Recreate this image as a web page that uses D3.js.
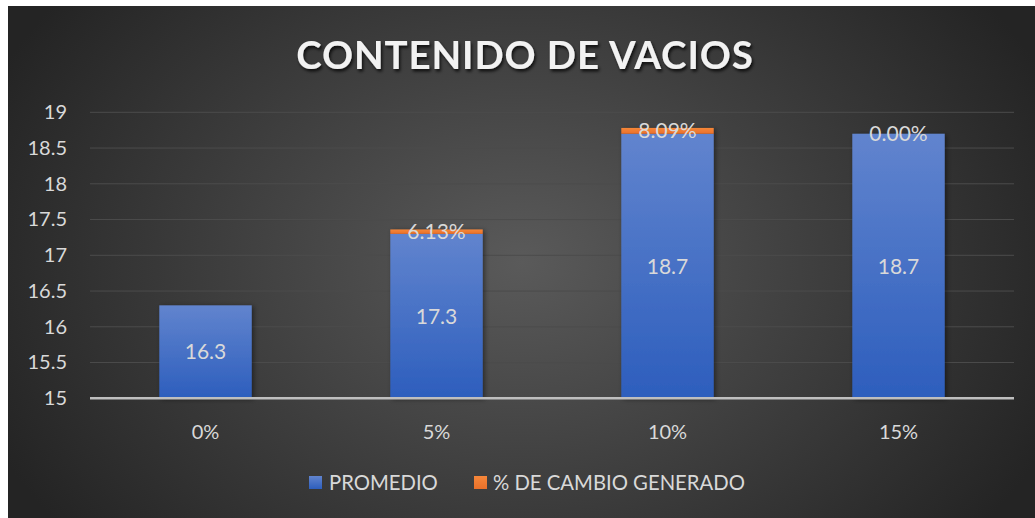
<!DOCTYPE html>
<html>
<head>
<meta charset="utf-8">
<script src="https://cdn.jsdelivr.net/npm/d3@7"></script>
<style>
  html, body { margin: 0; padding: 0; background: #fff; }
  svg { display: block; }
  text { font-family: Lato, "Open Sans", sans-serif; }
</style>
</head>
<body>
<div class="chart"></div>
<script>
const categories = ["0%", "5%", "10%", "15%"];
const promedio = [16.3, 17.3, 18.7, 18.7];
const cambio = [null, 0.0613, 0.0809, 0.0];
const yTicks = [15, 15.5, 16, 16.5, 17, 17.5, 18, 18.5, 19];
const seriesNames = ["PROMEDIO", "% DE CAMBIO GENERADO"];

const width = 1035;
const height = 518;
const textColor = "#d9d9d9";

const svg = d3.select(".chart")
    .append("svg")
    .attr("width", width)
    .attr("height", height);

const defs = svg.append("defs");

const bg = defs.append("radialGradient")
    .attr("id", "bg")
    .attr("gradientUnits", "userSpaceOnUse")
    .attr("cx", 521).attr("cy", 262).attr("r", 580)
    .attr("gradientTransform", "translate(521,262) scale(1,0.75) translate(-521,-262)");
bg.append("stop").attr("offset", 0).attr("stop-color", "#5a5a5a");
bg.append("stop").attr("offset", 1).attr("stop-color", "#242424");

const blueGrad = defs.append("linearGradient")
    .attr("id", "blue").attr("x1", 0).attr("y1", 0).attr("x2", 0).attr("y2", 1);
blueGrad.append("stop").attr("offset", 0).attr("stop-color", "#6184ce");
blueGrad.append("stop").attr("offset", 1).attr("stop-color", "#2d5ebd");

const orangeGrad = defs.append("linearGradient")
    .attr("id", "orange").attr("x1", 0).attr("y1", 0).attr("x2", 0).attr("y2", 1);
orangeGrad.append("stop").attr("offset", 0).attr("stop-color", "#f6873a");
orangeGrad.append("stop").attr("offset", 1).attr("stop-color", "#e9702a");

const titleShadow = defs.append("filter").attr("id", "tshadow")
    .attr("x", "-10%").attr("y", "-30%").attr("width", "120%").attr("height", "160%");
titleShadow.append("feDropShadow")
    .attr("dx", 1.5).attr("dy", 2.5).attr("stdDeviation", 1.8)
    .attr("flood-color", "#000").attr("flood-opacity", 0.75);

const barShadow = defs.append("filter").attr("id", "bshadow")
    .attr("x", "-20%").attr("y", "-10%").attr("width", "140%").attr("height", "120%");
barShadow.append("feDropShadow")
    .attr("dx", 2).attr("dy", 1).attr("stdDeviation", 2.5)
    .attr("flood-color", "#000").attr("flood-opacity", 0.45);

// chart area
svg.append("rect")
    .attr("x", 8).attr("y", 6)
    .attr("width", width - 8).attr("height", height - 6)
    .attr("fill", "url(#bg)");

const plot = { left: 90, right: 1014, top: 112.3, bottom: 398.3 };

const x = d3.scaleBand()
    .domain(categories)
    .range([plot.left, plot.right])
    .paddingInner(0.6)
    .paddingOuter(0.3);

const y = d3.scaleLinear()
    .domain([15, 19])
    .range([plot.bottom, plot.top]);

// title
svg.append("text")
    .attr("x", 525)
    .attr("y", 69)
    .attr("text-anchor", "middle")
    .attr("font-size", 38.5)
    .attr("font-weight", "bold")
    .attr("letter-spacing", 0.9)
    .attr("fill", "#f2f2f2")
    .attr("filter", "url(#tshadow)")
    .text("CONTENIDO DE VACIOS");

// gridlines
svg.append("g")
    .selectAll("line")
    .data(yTicks.filter(d => d > 15))
    .join("line")
    .attr("x1", plot.left).attr("x2", plot.right)
    .attr("y1", d => y(d)).attr("y2", d => y(d))
    .attr("stroke", "#4c4c4c")
    .attr("stroke-width", 1);

// y axis labels
const yAxis = svg.append("g")
    .attr("transform", `translate(${plot.left},0)`)
    .call(d3.axisLeft(y).tickValues(yTicks).tickSize(0).tickPadding(23).tickFormat(d3.format("")));
yAxis.select(".domain").remove();
yAxis.selectAll("text")
    .attr("fill", textColor)
    .attr("font-size", 20)
    .attr("font-family", "Lato, sans-serif");

// bars
const bars = svg.append("g").attr("filter", "url(#bshadow)");

bars.selectAll("rect.promedio")
    .data(promedio)
    .join("rect")
    .attr("class", "promedio")
    .attr("x", (d, i) => x(categories[i]))
    .attr("width", x.bandwidth())
    .attr("y", d => y(d))
    .attr("height", d => y(15) - y(d))
    .attr("fill", "url(#blue)");

bars.selectAll("rect.cambio")
    .data(cambio)
    .join("rect")
    .attr("class", "cambio")
    .attr("x", (d, i) => x(categories[i]))
    .attr("width", x.bandwidth())
    .attr("y", (d, i) => y(promedio[i] + (d || 0)))
    .attr("height", (d, i) => y(promedio[i]) - y(promedio[i] + (d || 0)))
    .attr("fill", "url(#orange)");

// baseline
svg.append("line")
    .attr("x1", plot.left).attr("x2", plot.right)
    .attr("y1", y(15)).attr("y2", y(15))
    .attr("stroke", "#bfbfbf")
    .attr("stroke-width", 2.5);

// value labels
svg.append("g")
    .selectAll("text")
    .data(promedio)
    .join("text")
    .attr("x", (d, i) => x(categories[i]) + x.bandwidth() / 2)
    .attr("y", d => (y(d) + y(15)) / 2)
    .attr("dy", "0.36em")
    .attr("text-anchor", "middle")
    .attr("font-size", 21)
    .attr("fill", textColor)
    .text(d => d3.format(".1f")(d));

svg.append("g")
    .selectAll("text")
    .data(cambio.map((d, i) => ({ d, i })).filter(o => o.d !== null))
    .join("text")
    .attr("x", o => x(categories[o.i]) + x.bandwidth() / 2)
    .attr("y", o => (y(promedio[o.i]) + y(promedio[o.i] + o.d)) / 2)
    .attr("dy", "0.36em")
    .attr("text-anchor", "middle")
    .attr("font-size", 21)
    .attr("fill", textColor)
    .text(o => d3.format(".2%")(o.d));

// x axis labels
svg.append("g")
    .selectAll("text")
    .data(categories)
    .join("text")
    .attr("x", d => x(d) + x.bandwidth() / 2)
    .attr("y", 432)
    .attr("dy", "0.36em")
    .attr("text-anchor", "middle")
    .attr("font-size", 20)
    .attr("fill", textColor)
    .text(d => d);

// legend
const legendItems = [
    { name: seriesNames[0], fill: "url(#blue)", sx: 309, tx: 329 },
    { name: seriesNames[1], fill: "url(#orange)", sx: 474, tx: 493 }
];
const legend = svg.append("g");
legend.selectAll("rect")
    .data(legendItems)
    .join("rect")
    .attr("x", d => d.sx)
    .attr("y", 476)
    .attr("width", 13)
    .attr("height", 13)
    .attr("fill", d => d.fill);
legend.selectAll("text")
    .data(legendItems)
    .join("text")
    .attr("x", d => d.tx)
    .attr("y", 482.5)
    .attr("dy", "0.36em")
    .attr("font-size", 20.3)
    .attr("fill", textColor)
    .text(d => d.name);
</script>
</body>
</html>
